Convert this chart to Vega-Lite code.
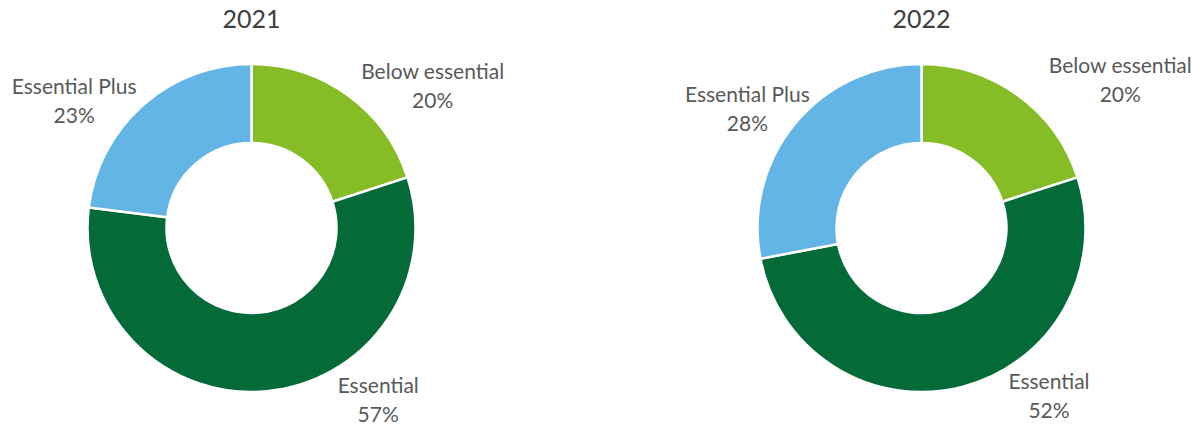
{
  "$schema": "https://vega.github.io/schema/vega-lite/v6.json",
  "background": "white",
  "padding": {"top": 8, "left": 0, "right": 0, "bottom": 0},
  "bounds": "flush",
  "spacing": 167,
  "config": {
    "view": {"stroke": null},
    "title": {"fontSize": 25, "font": "Lato", "fontWeight": "normal", "color": "#404040", "offset": 10, "frame": "group"},
    "text": {"font": "Lato", "fontSize": 21, "fill": "#595959", "align": "center", "baseline": "middle"}
  },
  "data": {
    "values": [
      {"year": "2021", "category": "Below essential", "value": 0.20},
      {"year": "2021", "category": "Essential", "value": 0.57},
      {"year": "2021", "category": "Essential Plus", "value": 0.23},
      {"year": "2022", "category": "Below essential", "value": 0.20},
      {"year": "2022", "category": "Essential", "value": 0.52},
      {"year": "2022", "category": "Essential Plus", "value": 0.28}
    ]
  },
  "hconcat": [
    {
      "width": 503,
      "height": 370,
      "title": "2021",
      "transform": [{"filter": "datum.year == '2021'"}],
      "encoding": {
        "theta": {"field": "value", "type": "quantitative", "stack": true},
        "detail": {"field": "category", "type": "nominal"},
        "order": {"field": "category", "type": "ordinal", "sort": "ascending"}
      },
      "layer": [
        {
          "mark": {"type": "arc", "outerRadius": 164, "innerRadius": 85, "stroke": "white", "strokeWidth": 2.5},
          "encoding": {
            "color": {"field": "category", "type": "nominal", "legend": null,
              "scale": {"domain": ["Below essential", "Essential", "Essential Plus"], "range": ["#86bc25", "#046a38", "#62b5e5"]}}
          }
        },
        {"mark": {"type": "text", "radius": {"expr": "datum.category === 'Below essential' ? 229 : 0"}, "thetaOffset": 0.284, "dy": -14.5},
         "encoding": {"text": {"condition": {"test": "datum.category === 'Below essential'", "field": "category", "type": "nominal"}, "value": ""}}},
        {"mark": {"type": "text", "radius": {"expr": "datum.category === 'Below essential' ? 229 : 0"}, "thetaOffset": 0.284, "dy": 14.5},
         "encoding": {"text": {"condition": {"test": "datum.category === 'Below essential'", "field": "value", "type": "quantitative", "format": ".0%"}, "value": ""}}},
        {"mark": {"type": "text", "radius": {"expr": "datum.category === 'Essential' ? 215 : 0"}, "thetaOffset": -0.536, "dy": -14.5},
         "encoding": {"text": {"condition": {"test": "datum.category === 'Essential'", "field": "category", "type": "nominal"}, "value": ""}}},
        {"mark": {"type": "text", "radius": {"expr": "datum.category === 'Essential' ? 215 : 0"}, "thetaOffset": -0.536, "dy": 14.5},
         "encoding": {"text": {"condition": {"test": "datum.category === 'Essential'", "field": "value", "type": "quantitative", "format": ".0%"}, "value": ""}}},
        {"mark": {"type": "text", "radius": {"expr": "datum.category === 'Essential Plus' ? 217 : 0"}, "thetaOffset": -0.234, "dy": -14.5},
         "encoding": {"text": {"condition": {"test": "datum.category === 'Essential Plus'", "field": "category", "type": "nominal"}, "value": ""}}},
        {"mark": {"type": "text", "radius": {"expr": "datum.category === 'Essential Plus' ? 217 : 0"}, "thetaOffset": -0.234, "dy": 14.5},
         "encoding": {"text": {"condition": {"test": "datum.category === 'Essential Plus'", "field": "value", "type": "quantitative", "format": ".0%"}, "value": ""}}}
      ]
    },
    {
      "width": 503,
      "height": 370,
      "title": "2022",
      "transform": [{"filter": "datum.year == '2022'"}],
      "encoding": {
        "theta": {"field": "value", "type": "quantitative", "stack": true},
        "detail": {"field": "category", "type": "nominal"},
        "order": {"field": "category", "type": "ordinal", "sort": "ascending"}
      },
      "layer": [
        {
          "mark": {"type": "arc", "outerRadius": 164, "innerRadius": 85, "stroke": "white", "strokeWidth": 2.5},
          "encoding": {
            "color": {"field": "category", "type": "nominal", "legend": null,
              "scale": {"domain": ["Below essential", "Essential", "Essential Plus"], "range": ["#86bc25", "#046a38", "#62b5e5"]}}
          }
        },
        {"mark": {"type": "text", "radius": {"expr": "datum.category === 'Below essential' ? 247 : 0"}, "thetaOffset": 0.307, "dy": -14.5},
         "encoding": {"text": {"condition": {"test": "datum.category === 'Below essential'", "field": "category", "type": "nominal"}, "value": ""}}},
        {"mark": {"type": "text", "radius": {"expr": "datum.category === 'Below essential' ? 247 : 0"}, "thetaOffset": 0.307, "dy": 14.5},
         "encoding": {"text": {"condition": {"test": "datum.category === 'Below essential'", "field": "value", "type": "quantitative", "format": ".0%"}, "value": ""}}},
        {"mark": {"type": "text", "radius": {"expr": "datum.category === 'Essential' ? 212 : 0"}, "thetaOffset": -0.394, "dy": -14.5},
         "encoding": {"text": {"condition": {"test": "datum.category === 'Essential'", "field": "category", "type": "nominal"}, "value": ""}}},
        {"mark": {"type": "text", "radius": {"expr": "datum.category === 'Essential' ? 212 : 0"}, "thetaOffset": -0.394, "dy": 14.5},
         "encoding": {"text": {"condition": {"test": "datum.category === 'Essential'", "field": "value", "type": "quantitative", "format": ".0%"}, "value": ""}}},
        {"mark": {"type": "text", "radius": {"expr": "datum.category === 'Essential Plus' ? 210 : 0"}, "thetaOffset": -0.098, "dy": -14.5},
         "encoding": {"text": {"condition": {"test": "datum.category === 'Essential Plus'", "field": "category", "type": "nominal"}, "value": ""}}},
        {"mark": {"type": "text", "radius": {"expr": "datum.category === 'Essential Plus' ? 210 : 0"}, "thetaOffset": -0.098, "dy": 14.5},
         "encoding": {"text": {"condition": {"test": "datum.category === 'Essential Plus'", "field": "value", "type": "quantitative", "format": ".0%"}, "value": ""}}}
      ]
    }
  ]
}
